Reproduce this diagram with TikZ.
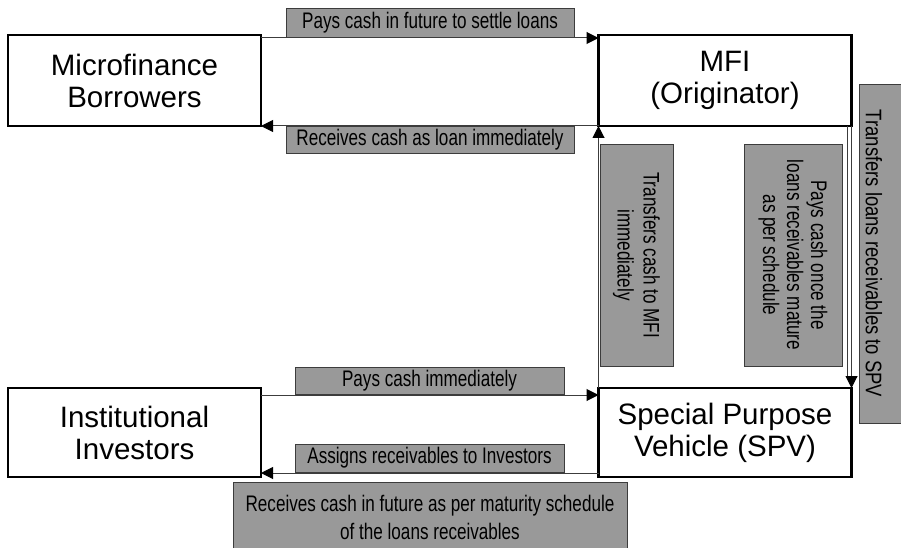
\documentclass[tikz,border=0pt]{standalone}
\usepackage{fontspec}
\setmainfont{Liberation Sans}
\newfontfamily\narrowA[FakeStretch=0.76]{Liberation Sans}
\newfontfamily\narrowB[FakeStretch=0.82]{Liberation Sans}
\usetikzlibrary{arrows.meta,calc}
\definecolor{lblgray}{RGB}{153,153,153}
\definecolor{lineg}{RGB}{60,60,60}
\begin{document}
\begin{tikzpicture}[x=1pt,y=-1pt,
  entity/.style={draw=black, line width=2.6pt, fill=white, minimum width=253pt, minimum height=91pt, align=center, font=\fontsize{29.5}{32}\selectfont, inner sep=0pt, outer sep=0pt},
  lbl/.style={draw=lineg, line width=0.9pt, fill=lblgray, align=center, inner sep=0pt, outer sep=0pt, font=\narrowA\fontsize{22.5}{26}\selectfont},
  conn/.style={draw=lineg, line width=1pt, -{Triangle[length=12pt,width=12pt,color=black]}}]
\useasboundingbox (0,0) rectangle (901,548);
\node[entity] (mb) at (134.5,80.5) {Microfinance\\Borrowers};
\node[entity] (mfi) at (725,80.5) {MFI\\(Originator)};
\node[entity, minimum height=89pt] (ii) at (134.5,432.5) {Institutional\\Investors};
\node[entity, minimum height=89pt] (spv) at (725,432.5) {Special Purpose\\Vehicle (SPV)};
% connectors
\draw[conn] ($(mb.north east)+(0,3)$) -- ($(mfi.north west)+(0,3)$);
\draw[conn] (mfi.south west) -- (mb.south east);
\draw[conn] (spv.north west) -- (mfi.south west);
\draw[conn] (mfi.south east) -- (spv.north east);
\draw[draw=lineg, line width=0.8pt] ($(mfi.south east)+(-4,0)$) -- ($(spv.north east)+(-4,-12)$);
\draw[conn] ($(ii.north east)+(0,7)$) -- ($(spv.north west)+(0,7)$);
\draw[conn] ($(spv.south west)+(0,-4)$) -- ($(ii.south east)+(0,-4)$);
% labels
\node[lbl, minimum width=288pt, minimum height=29pt] (l1) at (430,22.5) {Pays cash in future to settle loans};
\node[lbl, minimum width=288pt, minimum height=27pt] (l2) at (430,139.5) {Receives cash as loan immediately};
\node[lbl, minimum width=269pt, minimum height=27pt] (l3) at (429.5,380.5) {Pays cash immediately};
\node[lbl, minimum width=269pt, minimum height=28pt] (l4) at (429.5,458) {Assigns receivables to Investors};
\node[lbl, minimum width=394pt, minimum height=70pt, font=\narrowA\fontsize{22.5}{28}\selectfont] (l5) at (430,517) {Receives cash in future as per maturity schedule\\of the loans receivables};
\node[lbl, rotate=-90, minimum width=222pt, minimum height=73pt] (l6) at (636.5,255) {Transfers cash to MFI\\immediately};
\node[lbl, rotate=-90, minimum width=222pt, minimum height=98pt, font=\narrowA\fontsize{22.5}{24}\selectfont] (l7) at (793,255) {Pays cash once the\\loans receivables mature\\as per schedule};
\node[lbl, rotate=-90, minimum width=339pt, minimum height=46pt] (l8box) at (882,253.5) {};
\node[rotate=-90, font=\narrowB\fontsize{22.5}{26}\selectfont, inner sep=0pt] (l8) at (874,253.5) {Transfers loans receivables to SPV};
\end{tikzpicture}
\end{document}
